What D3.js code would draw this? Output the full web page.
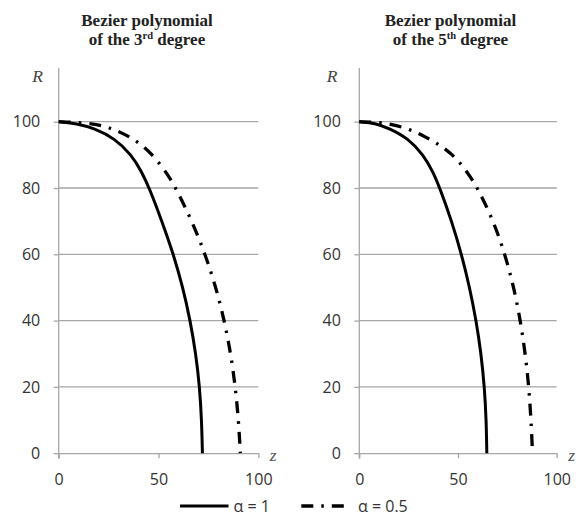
<!DOCTYPE html>
<html><head><meta charset="utf-8">
<script src="https://cdn.jsdelivr.net/npm/d3@7"></script>
<style>
html,body{margin:0;padding:0;background:#fff;}
svg{display:block;}
</style></head>
<body>
<svg id="chart" width="576" height="517"></svg>
<script>
// ---- data ----
const zTicks = [0, 50, 100];
const rTicks = [0, 20, 40, 60, 80, 100];
const panelTitles = [["Bezier polynomial", "of the 3", "rd", " degree"], ["Bezier polynomial", "of the 5", "th", " degree"]];
const seriesNames = ["α = 1", "α = 0.5"];

// 3rd degree, alpha = 1 : [z, R]
const deg3Alpha1 = [[0,100],[9,99.5],[17.8,98],[28,95],[36.5,90],[41.5,85],[45.4,80],[51.7,70],[57.5,60],[62.2,50],[65.9,40],[68.7,30],[70.6,20],[71.6,10],[72,0]];
// 3rd degree, alpha = 0.5
const deg3Alpha05 = [[0,100],[10,99.8],[19,99.2],[26.5,98],[34,96],[41,93.3],[47,90],[52.3,86],[56.2,82.5],[58.6,80],[66.8,70],[73.4,60],[78.8,50],[83,40],[86.2,30],[88.5,20],[90.1,10],[91,0]];
// 5th degree, alpha = 1
const deg5Alpha1 = [[0,100],[8,99.6],[15.1,98],[24.7,95],[32.5,90],[37.2,85],[40.8,80],[46.8,70],[51.8,60],[55.9,50],[59.2,40],[61.7,30],[63.4,20],[64.3,10],[64.6,0]];
// 5th degree, alpha = 0.5
const deg5Alpha05 = [[0,100],[8,99.8],[16,99.4],[26.5,97.5],[33.9,95.3],[40.8,93],[47.4,90],[53.4,86],[60,80],[68,70],[73.8,60],[78.3,50],[81.6,40],[84.1,30],[85.9,20],[87,10],[87.6,2]];

const panels = [
  {x0: 58.7, x1: 258.3, titleX: 147, rX: 37.5, series: [deg3Alpha1, deg3Alpha05], title: panelTitles[0]},
  {x0: 359.3, x1: 556.7, titleX: 450.5, rX: 332, series: [deg5Alpha1, deg5Alpha05], title: panelTitles[1]}
];

const svg = d3.select("#chart");
const yTop = 121.7, yBot = 453.2;
const gridColor = "#a6a6a6";
const textColor = "#333";
const tickFont = "'Open Sans', 'Liberation Sans', sans-serif";
const styles = [
  {dash: null, width: 3},
  {dash: "12,8,2.5,8", width: 3.3}
];

panels.forEach(p => {
  const x = d3.scaleLinear().domain([0, 100]).range([p.x0, p.x1]);
  const y = d3.scaleLinear().domain([0, 100]).range([yBot, yTop]);
  const g = svg.append("g");

  // gridlines
  g.selectAll("line.grid").data(rTicks.filter(d => d > 0)).join("line")
    .attr("class", "grid")
    .attr("x1", p.x0).attr("x2", p.x1)
    .attr("y1", d => y(d)).attr("y2", d => y(d))
    .attr("stroke", gridColor).attr("stroke-width", 1.3);

  // y axis
  const ya = g.append("g").attr("transform", `translate(${p.x0},0)`)
    .call(d3.axisLeft(y).tickValues(rTicks).tickSize(5).tickSizeOuter(0).tickPadding(13.5));
  ya.select(".domain").remove();
  ya.selectAll(".tick line").attr("stroke", gridColor).attr("stroke-width", 1.3);
  ya.selectAll(".tick text").attr("font-family", tickFont).attr("font-size", 16).attr("fill", textColor);
  g.append("line").attr("x1", p.x0).attr("x2", p.x0).attr("y1", 68).attr("y2", yBot + 5.5)
    .attr("stroke", gridColor).attr("stroke-width", 1.3);

  // x axis
  const xa = g.append("g").attr("transform", `translate(0,${yBot})`)
    .call(d3.axisBottom(x).tickValues(zTicks).tickSize(5).tickSizeOuter(0).tickPadding(15));
  xa.select(".domain").attr("stroke", gridColor).attr("stroke-width", 1.3);
  xa.selectAll(".tick line").attr("stroke", gridColor).attr("stroke-width", 1.3);
  xa.selectAll(".tick text").attr("font-family", tickFont).attr("font-size", 16).attr("fill", textColor);

  // axis letters
  g.append("text").attr("x", p.rX).attr("y", 81.5).attr("text-anchor", "middle")
    .attr("font-family", "'Liberation Serif', serif").attr("font-style", "italic")
    .attr("font-size", 17.5).attr("fill", "#444").text("R");
  g.append("text").attr("x", p.x1 + 11.5).attr("y", 461).attr("text-anchor", "start")
    .attr("font-family", "'Liberation Serif', serif").attr("font-style", "italic")
    .attr("font-size", 17.5).attr("fill", "#555").text("z");

  // title
  g.append("text").attr("text-anchor", "middle")
    .attr("font-family", "'Liberation Serif', serif").attr("font-weight", "bold")
    .attr("font-size", 17).attr("fill", "#222")
    .attr("x", p.titleX).attr("y", 25.8).text(p.title[0]);
  const t2 = g.append("text").attr("text-anchor", "middle")
    .attr("font-family", "'Liberation Serif', serif").attr("font-weight", "bold")
    .attr("font-size", 17).attr("fill", "#222")
    .attr("x", p.titleX).attr("y", 45);
  t2.append("tspan").text(p.title[1]);
  t2.append("tspan").attr("font-size", 10.5).attr("dy", -6).text(p.title[2]);
  t2.append("tspan").attr("dy", 6).text(p.title[3]);

  // curves
  const line = d3.line().x(d => x(d[0])).y(d => y(d[1])).curve(d3.curveBasis);
  p.series.forEach((s, i) => {
    g.append("path").datum(s).attr("d", line)
      .attr("fill", "none").attr("stroke", "#000")
      .attr("stroke-width", styles[i].width)
      .attr("stroke-dasharray", styles[i].dash);
  });
});

// legend
const legend = svg.append("g");
const legendItems = [
  {x1: 180, x2: 228.5, tx: 233.5},
  {x1: 301.3, x2: 347, tx: 358}
];
legendItems.forEach((L, i) => {
  legend.append("line").attr("x1", L.x1).attr("x2", L.x2).attr("y1", 506).attr("y2", 506)
    .attr("stroke", "#000").attr("stroke-width", styles[i].width)
    .attr("stroke-dasharray", styles[i].dash);
  legend.append("text").attr("x", L.tx).attr("y", 511.5)
    .attr("font-family", tickFont).attr("font-size", 16).attr("fill", textColor)
    .text(seriesNames[i]);
});
</script>
</body></html>
